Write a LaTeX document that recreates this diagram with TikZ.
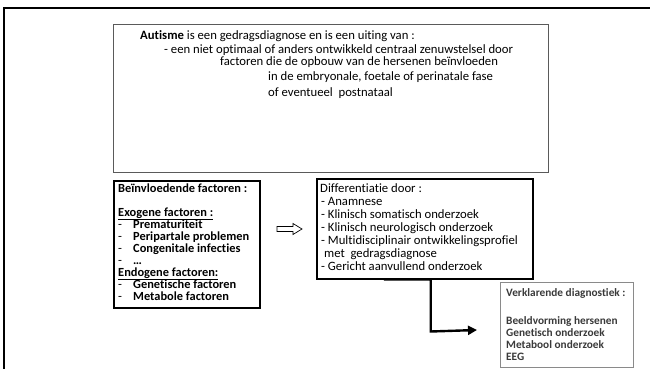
\documentclass[tikz,border=0pt]{standalone}
\usepackage{fontspec}
\setmainfont[Ligatures=NoCommon]{Carlito}
\usetikzlibrary{arrows.meta,calc}
\definecolor{boxgray}{HTML}{5A5A5A}
\definecolor{lightgray}{HTML}{8A8A8A}
\definecolor{textgray}{HTML}{3A3A3A}
\begin{document}
\begin{tikzpicture}[x=1pt,y=-1pt,
  txt/.style={inner sep=0pt, anchor=base west, font=\fontsize{12.7}{13}\selectfont},
  btxt/.style={txt, font=\fontsize{12.4}{13}\selectfont\bfseries},
  vtxt/.style={inner sep=0pt, anchor=base west, text=textgray, font=\fontsize{11.3}{12}\selectfont\bfseries},
  panel/.style={anchor=north west, inner sep=0pt, fill=white},
]
\useasboundingbox (0,0) rectangle (650,369);
% outer frame
\coordinate (fbl) at (4,369);
\coordinate (ftl) at (4,8);
\coordinate (ftr) at (650,8);
\draw[line width=2.6pt] (fbl) -- (ftl) -- (ftr);

% top box
\node[panel, draw=boxgray, line width=0.9pt, minimum width=435pt, minimum height=148pt] (top) at (113,24) {};
\node[txt] (t1) at (140,40) {\textbf{Autisme} is een gedragsdiagnose en is een uiting van :};
\node[txt] (t2) at (164,54) {- een niet optimaal of anders ontwikkeld centraal zenuwstelsel door};
\node[txt] (t3) at (220,66) {factoren die de opbouw van de hersenen beïnvloeden};
\node[txt] (t4) at (268,81) {in de embryonale, foetale of perinatale fase};
\node[txt] (t5) at (268,96) {of eventueel~ postnataal};

% left box
\node[panel, draw=black, line width=2pt, minimum width=146pt, minimum height=127pt] (left) at (113,180) {};
\node[btxt] (l0) at (118,192) {Beïnvloedende factoren :};
\node[btxt] (l1) at (118,216) {\underline{Exogene factoren :}};
\node[txt] (l2d) at (118,228) {-};
\node[btxt] (l2) at (133,228) {Prematuriteit};
\node[txt] (l3d) at (118,240) {-};
\node[btxt] (l3) at (133,240) {Peripartale problemen};
\node[txt] (l4d) at (118,252) {-};
\node[btxt] (l4) at (133,252) {Congenitale infecties};
\node[txt] (l5d) at (118,264) {-};
\node[btxt] (l5) at (133,264) {\dots};
\node[btxt] (l6) at (118,276) {\underline{Endogene factoren:}};
\node[txt] (l7d) at (118,288) {-};
\node[btxt] (l7) at (133,288) {Genetische factoren};
\node[txt] (l8d) at (118,300) {-};
\node[btxt] (l8) at (133,300) {Metabole factoren};

% hollow arrow
\draw[line width=0.7pt, fill=white] (277,226.5) -- (293,226.5) -- (293,223.5) -- (302,229) -- (293,234.5) -- (293,231.5) -- (277,231.5) -- cycle;

% right box
\node[panel, draw=black, line width=1.5pt, minimum width=216pt, minimum height=100pt] (diff) at (316,178) {};
\node[txt] (r0) at (320,192) {Differentiatie door :};
\node[txt] (r1) at (321,205) {- Anamnese};
\node[txt] (r2) at (321,218) {- Klinisch somatisch onderzoek};
\node[txt] (r3) at (321,231) {- Klinisch neurologisch onderzoek};
\node[txt] (r4) at (321,244) {- Multidisciplinair ontwikkelingsprofiel};
\node[txt] (r5) at (324,257) {met~ gedragsdiagnose};
\node[txt] (r6) at (321,270) {- Gericht aanvullend onderzoek};

% explanatory box
\node[panel, draw=lightgray, line width=1.2pt, minimum width=133pt, minimum height=85pt] (verk) at (500,282) {};
\node[vtxt] (v0) at (506,296.5) {Verklarende diagnostiek :};
\node[vtxt] (v1) at (506,324.5) {Beeldvorming hersenen};
\node[vtxt] (v2) at (506,336.5) {Genetisch onderzoek};
\node[vtxt] (v3) at (506,348.5) {Metabool onderzoek};
\node[vtxt] (v4) at (506,360.5) {EEG};

% connector
\coordinate (tip) at (477,330);
\draw[line width=2.4pt, -{Triangle[length=9pt,width=9pt]}] ([xshift=-41pt]diff.south) -- ([xshift=6pt]diff.south) -- ++(0,52) -- (tip);
\end{tikzpicture}
\end{document}
